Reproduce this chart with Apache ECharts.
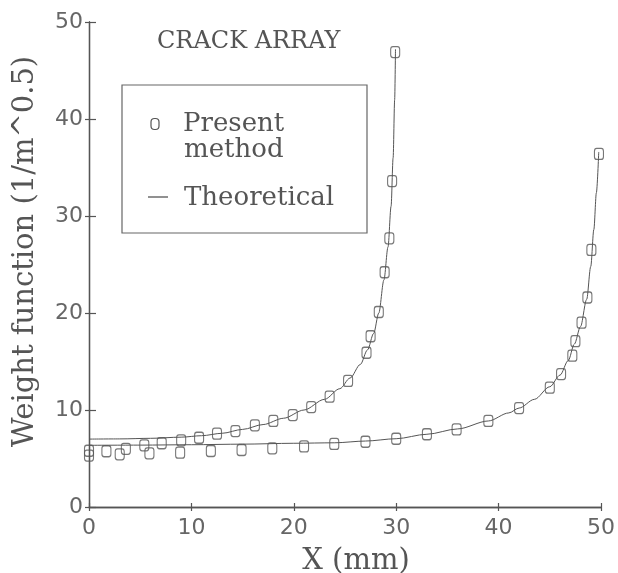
<!DOCTYPE html>
<html>
<head>
<meta charset="utf-8">
<script src="https://cdn.jsdelivr.net/npm/echarts@6/dist/echarts.min.js"></script>
<style>
html,body{margin:0;padding:0;background:#fff;}
#chart{width:618px;height:573px;}
</style>
</head>
<body>
<div id="chart"></div>
<script>
// Ticks
var xTicks = [0, 10, 20, 30, 40, 50];
var yTicks = [0, 10, 20, 30, 40, 50];

// Present method, crack length 30 mm
var presentA = [
  [0, 5.8], [1.7, 5.75], [3.6, 6.0], [5.4, 6.36], [7.1, 6.57], [9.0, 6.87],
  [10.75, 7.14], [12.5, 7.56], [14.3, 7.83], [16.2, 8.42], [18.0, 8.87],
  [19.9, 9.48], [21.7, 10.3], [23.5, 11.37], [25.3, 13.0], [27.1, 15.9],
  [27.5, 17.6], [28.3, 20.1], [28.87, 24.2], [29.33, 27.7], [29.6, 33.6], [29.9, 46.9]
];
// Present method, crack length 50 mm
var presentB = [
  [0, 5.3], [3, 5.43], [5.9, 5.53], [8.9, 5.6], [11.9, 5.77], [14.9, 5.88],
  [17.9, 6.05], [21, 6.25], [23.95, 6.5], [27, 6.73], [30, 7.04], [33, 7.5],
  [35.9, 8.0], [39, 8.87], [42, 10.2], [45, 12.3], [46.1, 13.7], [47.2, 15.6],
  [47.5, 17.1], [48.1, 19.0], [48.67, 21.6], [49.06, 26.5], [49.8, 36.4]
];
// Theoretical curves
var theoryA = [
  [0, 7.0], [3, 7.02], [6, 7.08], [9, 7.2], [11, 7.35], [13, 7.6], [15, 8.0],
  [17, 8.5], [19, 9.15], [21, 10.0], [23, 11.1], [24.5, 12.2], [25.5, 13.3],
  [26.5, 14.7], [27.2, 16.2], [27.8, 17.9], [28.3, 20.0], [28.8, 23.4],
  [29.2, 26.8], [29.5, 31.0], [29.7, 36.0], [29.85, 42.0], [29.93, 47.2]
];
var theoryB = [
  [0, 6.36], [5, 6.38], [10, 6.42], [15, 6.48], [20, 6.57], [24, 6.62],
  [27, 6.8], [30, 7.04], [33, 7.5], [36, 8.05], [39, 8.87], [41, 9.7],
  [42, 10.2], [43.5, 11.1], [45, 12.4], [46, 13.6], [46.8, 15.1], [47.4, 16.8],
  [48, 18.6], [48.6, 21.4], [49, 24.8], [49.3, 28.6], [49.55, 32.4], [49.78, 36.6]
];

var ink = '#555';
var serif = 'DejaVu Serif';
var sans = 'DejaVu Sans';

var chart = echarts.init(document.getElementById('chart'), null, {renderer: 'canvas'});

function baseAxis(extra) {
  var a = {
    type: 'value', min: 0, max: 50, interval: 10,
    splitLine: {show: false},
    axisLine: {show: true, onZero: false, lineStyle: {color: ink, width: 1.3}},
    axisTick: {show: true, length: 4, lineStyle: {color: ink, width: 1.2}},
    axisLabel: {color: '#666', fontFamily: sans, fontSize: 22}
  };
  for (var k in extra) a[k] = extra[k];
  return a;
}

var option = {
  backgroundColor: '#fff',
  animation: false,
  grid: {left: 89, right: 17, top: 22, bottom: 66, containLabel: false, outerBoundsMode: 'none'},
  xAxis: [
    baseAxis({
      name: 'X (mm)', nameLocation: 'middle', nameGap: 40,
      nameTextStyle: {color: ink, fontFamily: serif, fontSize: 29, padding: [0, 0, 0, 22]},
      axisLabel: {color: '#666', fontFamily: sans, fontSize: 22, margin: 10,
        formatter: function (v) { return xTicks.indexOf(v) >= 0 ? String(v) : ''; }}
    }),
    baseAxis({position: 'bottom', axisLabel: {show: false},
      axisTick: {show: true, inside: true, length: 4, lineStyle: {color: ink, width: 1.2}}})
  ],
  yAxis: [
    baseAxis({
      name: 'Weight function (1/m^0.5)', nameLocation: 'middle', nameGap: 49,
      nameTextStyle: {color: ink, fontFamily: serif, fontSize: 29, padding: [0, 0, 0, 26]},
      axisLabel: {color: '#666', fontFamily: sans, fontSize: 22, margin: 6,
        formatter: function (v) { return yTicks.indexOf(v) >= 0 ? String(v) : ''; }}
    }),
    baseAxis({position: 'left', axisLabel: {show: false},
      axisTick: {show: true, inside: true, length: 7, lineStyle: {color: ink, width: 1.2}}})
  ],
  series: [
    {name: 'Theoretical', type: 'line', data: theoryA, showSymbol: false, symbol: 'none',
      smooth: 0.3, smoothMonotone: 'x', lineStyle: {color: ink, width: 1}},
    {name: 'Theoretical', type: 'line', data: theoryB, showSymbol: false, symbol: 'none',
      smooth: 0.3, smoothMonotone: 'x', lineStyle: {color: ink, width: 1}},
    {name: 'Present method', type: 'scatter', data: presentA, symbol: 'roundRect', symbolSize: [9, 11],
      itemStyle: {color: 'none', borderColor: ink, borderWidth: 1.2}},
    {name: 'Present method', type: 'scatter', data: presentB, symbol: 'roundRect', symbolSize: [9, 11],
      itemStyle: {color: 'none', borderColor: ink, borderWidth: 1.2}}
  ],
  graphic: [
    {type: 'text', x: 157, y: 54, style: {text: 'CRACK ARRAY', fill: ink, font: '24px "DejaVu Serif"', verticalAlign: 'bottom'}},
    {type: 'rect', shape: {x: 122, y: 85, width: 245, height: 148}, style: {fill: 'none', stroke: '#666', lineWidth: 1.2}},
    {type: 'rect', shape: {x: 151, y: 118.5, width: 8, height: 11, r: 3.5}, style: {fill: 'none', stroke: ink, lineWidth: 1.2}},
    {type: 'text', x: 183, y: 137, style: {text: 'Present', fill: ink, font: '26px "DejaVu Serif"', verticalAlign: 'bottom'}},
    {type: 'text', x: 184, y: 163, style: {text: 'method', fill: ink, font: '26px "DejaVu Serif"', verticalAlign: 'bottom'}},
    {type: 'line', shape: {x1: 148, y1: 197, x2: 168, y2: 197}, style: {stroke: ink, lineWidth: 1.3}},
    {type: 'text', x: 184, y: 211, style: {text: 'Theoretical', fill: ink, font: '26px "DejaVu Serif"', verticalAlign: 'bottom'}}
  ]
};
chart.setOption(option);
</script>
</body>
</html>
